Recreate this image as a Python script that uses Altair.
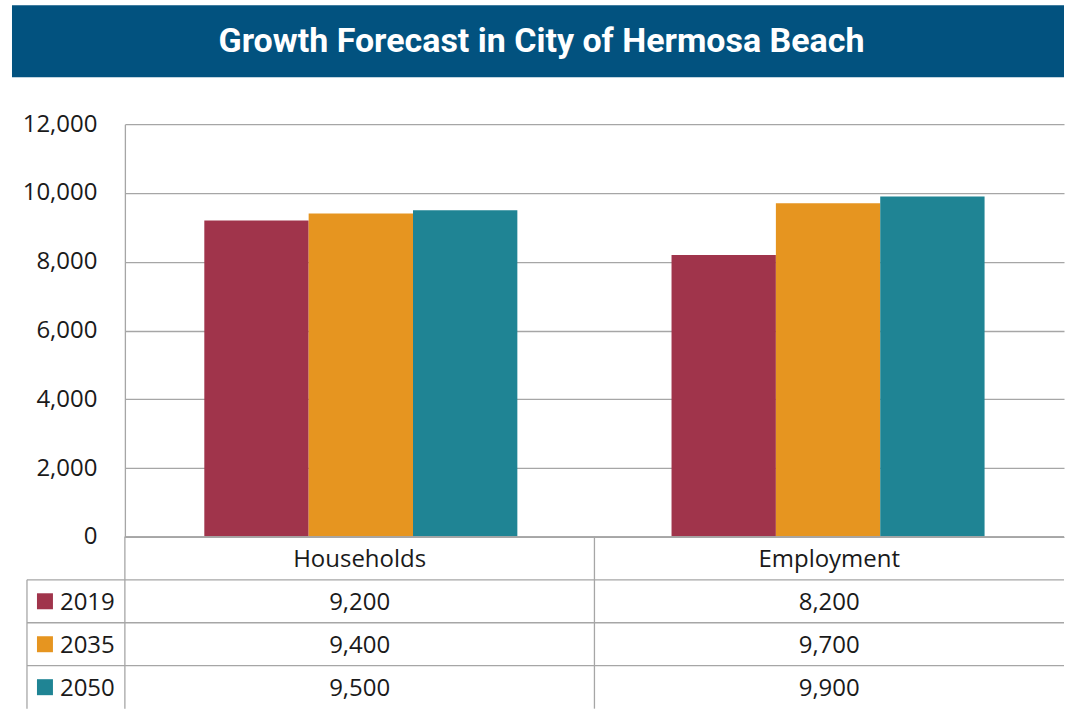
import altair as alt
import pandas as pd

title_text = "Growth Forecast in City of Hermosa Beach"
categories = ["Households", "Employment"]
years = ["2019", "2035", "2050"]
households = [9200, 9400, 9500]
employment = [8200, 9700, 9900]
colors = ["#A0344B", "#E69520", "#1F8494"]
y_ticks = [0, 2000, 4000, 6000, 8000, 10000, 12000]

rows = []
for i, y in enumerate(years):
    rows.append({"cat": "Households", "year": y, "value": households[i], "row": i + 1.5})
    rows.append({"cat": "Employment", "year": y, "value": employment[i], "row": i + 1.5})
df = pd.DataFrame(rows)
header_df = pd.DataFrame({"cat": categories, "row": [0.5, 0.5]})
title_df = pd.DataFrame({"title": [title_text]})

W = 940
H_BAR = 413
H_TAB = 172
LINE = "#A6A6A6"
FONT = "Open Sans"
FS = 24
TXT = "#1a1a1a"

color = alt.Color("year:N", scale=alt.Scale(domain=years, range=colors), legend=None)

bars = alt.Chart(df).mark_bar().encode(
    x=alt.X("cat:N", sort=categories,
            scale=alt.Scale(paddingInner=0.33, paddingOuter=0.17), axis=None),
    xOffset=alt.XOffset("year:N", sort=years, scale=alt.Scale(paddingInner=0, paddingOuter=0)),
    y=alt.Y("value:Q", scale=alt.Scale(domain=[0, 12000]),
            axis=alt.Axis(values=y_ticks, format=",.0f", title=None, labelFont=FONT,
                          labelFontSize=FS, labelColor=TXT, labelPadding=28,
                          ticks=False, tickSize=0, domain=True, domainColor=LINE,
                          domainWidth=1.3, grid=True, gridColor=LINE, gridWidth=1.3)),
    color=color,
)

banner = alt.Chart(title_df).mark_rect(color="#02527F").encode(
    x=alt.value(-113), x2=alt.value(W), y=alt.value(-119), y2=alt.value(-47)
)
banner_text = alt.Chart(title_df).mark_text(
    font="Roboto", fontWeight="bold", fontSize=34, color="white", align="center", baseline="middle"
).encode(x=alt.value(417), y=alt.value(-82), text="title:N")

top = alt.layer(bars, banner, banner_text).properties(width=W, height=H_BAR)

ys = alt.Scale(domain=[0, 4], reverse=True)
xs = alt.Scale(domain=categories, paddingInner=0, paddingOuter=0)

header_txt = alt.Chart(header_df).mark_text(font=FONT, fontSize=FS, color=TXT, dy=2).encode(
    x=alt.X("cat:N", sort=categories, scale=xs, axis=None),
    y=alt.Y("row:Q", scale=ys, axis=None),
    text="cat:N",
)
val_txt = alt.Chart(df).mark_text(font=FONT, fontSize=FS, color=TXT, dy=2).encode(
    x=alt.X("cat:N", sort=categories, scale=xs, axis=None),
    y=alt.Y("row:Q", scale=ys, axis=None),
    text=alt.Text("value:Q", format=","),
)
year_txt = alt.Chart(df[df.cat == "Households"]).mark_text(
    font=FONT, fontSize=FS, color=TXT, align="left", dy=2).encode(
    x=alt.value(-65),
    y=alt.Y("row:Q", scale=ys, axis=None),
    text="year:N",
)
swatch = alt.Chart(df[df.cat == "Households"]).mark_square(size=256, opacity=1).encode(
    x=alt.value(-80),
    y=alt.Y("row:Q", scale=ys, axis=None),
    color=color,
)
hlines = alt.Chart(df[df.cat == "Households"]).transform_calculate(
    b="datum.row - 0.5").mark_rule(color=LINE, strokeWidth=1.3).encode(
    x=alt.value(-98), x2=alt.value(W),
    y=alt.Y("b:Q", scale=ys, axis=None),
)
topline = alt.Chart(header_df).transform_calculate(
    b="datum.row - 0.5").mark_rule(color=LINE, strokeWidth=1.3).encode(
    x=alt.value(0), x2=alt.value(W),
    y=alt.Y("b:Q", scale=ys, axis=None),
)
vlines = alt.Chart(header_df).mark_rule(color=LINE, strokeWidth=1.3).encode(
    x=alt.X("cat:N", sort=categories, scale=xs, axis=None, bandPosition=0),
    y=alt.value(0), y2=alt.value(H_TAB),
)
left_border = alt.Chart(header_df.head(1)).transform_calculate(
    b="datum.row + 0.5").mark_rule(color=LINE, strokeWidth=1.3).encode(
    x=alt.value(-98),
    y=alt.Y("b:Q", scale=ys, axis=None), y2=alt.value(H_TAB),
)

table = alt.layer(hlines, topline, vlines, left_border, header_txt, val_txt, swatch, year_txt).properties(
    width=W, height=H_TAB)

chart = alt.vconcat(top, table, spacing=0, bounds="flush").properties(
    padding={"left": 12, "top": 5, "right": 0, "bottom": 0}
).configure_view(stroke=None).configure_concat(spacing=0)

chart.save("out.html", embed_options={"renderer": "svg", "actions": False})
